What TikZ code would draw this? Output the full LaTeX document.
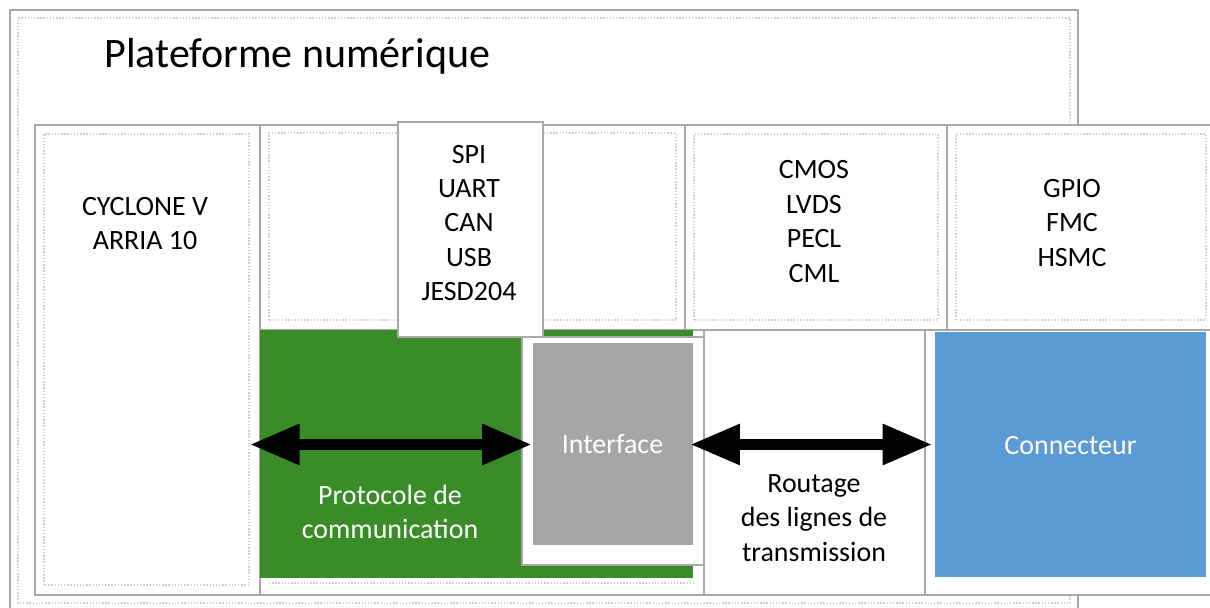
\documentclass[tikz,border=0pt]{standalone}
\usepackage{fontspec}
\setmainfont{Carlito}
\usepackage{xcolor}
\usetikzlibrary{arrows.meta,positioning}

\definecolor{protogreen}{HTML}{3A8C28}
\definecolor{ifacegray}{HTML}{A6A6A6}
\definecolor{connblue}{HTML}{5B9BD5}
\definecolor{framegray}{HTML}{A8A8A8}
\definecolor{dotgray}{HTML}{CFCFCF}
\definecolor{dotblue}{HTML}{C9D3E0}

\tikzset{
  frame/.style={draw=framegray, line width=0.6pt, fill=white},
  dotline/.style={draw=dotgray, densely dotted, line width=0.8pt},
  lbl/.style={align=center, inner sep=0pt, font=\fontsize{15.9}{19.6}\selectfont},
  dblarrow/.style={{Triangle[length=1cm,width=0.76cm]}-{Triangle[length=1cm,width=0.76cm]}, line width=6.5pt},
}

\begin{document}
\begin{tikzpicture}[x=1cm,y=1cm]
\useasboundingbox (0,0) rectangle (24.2,12.16);

% outer frame
\draw[frame] (0.2,-0.4) rectangle (21.56,11.96);
\draw[dotline] (0.36,0.1) rectangle (21.4,11.8);
\node[anchor=base west, inner sep=0pt, font=\fontsize{23.9}{28}\selectfont] (title) at (2.08,10.8) {Plateforme numérique};

% row of blocks
\draw[frame] (0.7,0.26) rectangle (24.5,9.66);
\node[frame, minimum width=4.5cm, minimum height=9.4cm] (cyclone) at (2.95,4.96) {};
\draw[dotline] (0.88,0.46) rectangle (4.98,9.48);
\draw[frame] (5.2,5.56) rectangle (13.7,9.66);
\draw[dotline] (5.38,5.76) rectangle (13.52,9.5);
\draw[frame] (13.7,5.56) rectangle (18.94,9.66);
\draw[dotline, draw=dotblue] (13.88,5.76) rectangle (18.76,9.48);
\draw[frame] (18.94,5.56) rectangle (24.5,9.66);
\draw[dotline, draw=dotblue] (19.12,5.76) rectangle (24.12,9.48);

% protocole / interface / routage / connecteur
\fill[protogreen] (5.2,0.6) rectangle (13.86,5.56);
\draw[dotline] (5.38,0.5) -- (13.86,0.5);
\draw[frame] (14.08,0.26) rectangle (18.5,5.56);
\draw[frame] (10.44,0.86) rectangle (14.08,5.42);
\node[fill=ifacegray, minimum width=3.2cm, minimum height=4.04cm] (iface) at (12.25,3.27) {};
\node[lbl, white] (ifacelbl) at (iface.center) {Interface};
\node[fill=connblue, minimum width=5.42cm, minimum height=4.9cm] (conn) at (21.41,3.07) {};
\node[lbl, white] (connlbl) at ([yshift=0.17cm]conn.center) {Connecteur};
\draw[frame] (7.96,5.42) rectangle (10.86,9.72);

% texts
\node[lbl] (fpga) at (2.9,7.69) {CYCLONE V\\ARRIA 10};
\node[lbl] (bus) at (9.38,7.7) {SPI\\UART\\CAN\\USB\\JESD204};
\node[lbl] (lvl) at (16.28,7.73) {CMOS\\LVDS\\PECL\\CML};
\node[lbl] (std) at (21.44,7.7) {GPIO\\FMC\\HSMC};
\node[lbl, white] (proto) at (7.8,1.92) {Protocole de\\communication};
\node[lbl] (route) at (16.28,1.8) {Routage\\des lignes de\\transmission};

% links
\draw[dblarrow, shorten <=-0.22cm] (cyclone.east |- iface.west) -- (iface.west);
\draw[dblarrow, shorten <=-0.06cm, shorten >=0.04cm] (iface.east) -- (iface.east -| conn.west);
\end{tikzpicture}
\end{document}
